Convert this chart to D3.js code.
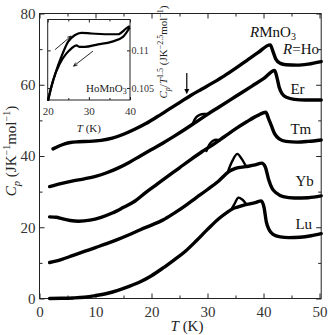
<!DOCTYPE html>
<html>
<head>
<meta charset="utf-8">
<script src="https://cdn.jsdelivr.net/npm/d3@7"></script>
<style>
  body { margin: 0; background: #fff; }
  svg { display: block; }
</style>
</head>
<body>
<script>
// specific heat of RMnO3, curves offset by 10 J/K mol each
var hoT  = [2.4, 3.5, 4.5, 5.5, 7, 9, 11, 13, 15, 17, 19, 21, 23, 25, 27, 29, 31, 33, 35, 37, 39, 41.2, 41.7, 42.2, 43, 44, 46, 48, 50.3];
var hoCp = [42, 42.8, 43.4, 43.8, 44, 44.1, 44.4, 45, 46.1, 47.5, 49.1, 51, 53, 55, 57, 58.8, 60.6, 62.5, 64.6, 66.8, 69, 71.2, 69.3, 67.2, 66, 65.6, 65.5, 65.8, 66.5];

var erT  = [1.8, 4, 6, 8, 10, 12, 14, 16, 18, 20, 22, 24, 26, 28, 30, 32, 34, 36, 38, 40, 42, 42.4, 42.8, 43.3, 44.2, 45.5, 47.5, 50.3];
var erCp = [31.4, 32.3, 33, 33.6, 34.3, 35.3, 36.6, 38.2, 40, 41.8, 43.6, 45.5, 47.5, 49.6, 51.7, 53.7, 55.7, 57.7, 59.7, 61.7, 64, 62, 59.3, 57.5, 56.4, 55.9, 55.7, 55.7];
var erLoopT  = [27.4, 28, 28.7, 29.4, 30];
var erLoopCp = [49.2, 50.9, 51.6, 51.8, 51.8];

var tmT  = [1.8, 3, 4, 5.5, 7, 9, 11, 13, 15, 17, 19, 21, 23, 25, 27, 29, 31, 33, 35, 37, 39, 40.4, 40.9, 41.4, 42, 42.8, 44, 46, 48, 50.3];
var tmCp = [22.9, 22.8, 22.4, 21.9, 21.7, 22, 22.8, 24, 25.6, 27.3, 29.8, 32.1, 34.4, 36.7, 39, 41.2, 43.2, 45.4, 47.6, 49.6, 51.4, 52.3, 50.5, 48.5, 46.2, 44.8, 44.1, 43.9, 44.1, 44.5];
var tmLoopT  = [29.8, 30.5, 31.3, 32.2];
var tmLoopCp = [41.4, 43.6, 44.5, 44.4];

var ybT  = [1.8, 4, 6, 8, 10, 12, 14, 16, 18, 20, 22, 24, 26, 28, 30, 32, 33.8, 35, 36.8, 38.5, 39.7, 40.3, 40.9, 41.5, 42.3, 43.5, 45.5, 48, 50.3];
var ybCp = [10.1, 11, 12.1, 13.2, 14.3, 15.4, 16.6, 17.9, 19.3, 20.6, 22, 23.9, 26, 28.3, 30.6, 33, 35.6, 36.5, 37, 37.5, 38, 37, 33.5, 31, 29.6, 28.6, 28.2, 28.3, 28.8];
var ybLoopT  = [33.6, 34.4, 35.3, 36.1, 36.9];
var ybLoopCp = [35.4, 38.5, 40.6, 39.2, 37];

var luT  = [1.8, 4, 6, 8, 10, 12, 14, 16, 18, 20, 22, 24, 26, 28, 30, 32, 33.5, 34.5, 35.5, 37, 38.5, 39.6, 40.1, 40.5, 41, 41.7, 43, 44.5, 46.5, 48.5, 50.3];
var luCp = [0, 0.05, 0.15, 0.35, 0.8, 1.4, 2.3, 3.4, 4.7, 6.4, 8.5, 10.8, 13.2, 16.2, 19.4, 22.4, 24.2, 25.2, 25.7, 26.4, 26.9, 27.4, 25.5, 21.5, 19.3, 18, 17.3, 17.1, 17.2, 17.6, 18.2];
var luLoopT  = [34.3, 34.9, 35.5, 36.2, 36.9];
var luLoopCp = [25.1, 26.8, 28.3, 27.8, 26.5];

var seriesNames = ["R=Ho", "Er", "Tm", "Yb", "Lu"];
var labelCp     = [68.5, 57.5, 46.3, 31.5, 19.6];
var labelT      = [43.5, 44.8, 44.8, 45.7, 45.7];

// inset: HoMnO3, Cp/T^1.5, heating and cooling
var upT = [20.07, 20.87, 22.09, 23.3, 24.93, 26.56, 28.17, 30.6, 33.85, 37.08, 39.1, 39.93];
var upV = [0.1033, 0.10509, 0.10732, 0.10912, 0.11113, 0.11201, 0.11233, 0.11224, 0.11214, 0.11214, 0.11291, 0.11322];
var downT = [20.07, 21.29, 22.92, 24.52, 25.73, 26.95, 27.78, 28.99, 32.22, 35.46, 38.3, 39.93];
var downV = [0.1033, 0.10598, 0.10822, 0.10956, 0.11023, 0.11067, 0.11046, 0.11046, 0.1108, 0.11113, 0.1118, 0.11304];

var xTicks = [0, 10, 20, 30, 40, 50];
var yTicks = [0, 20, 40, 60, 80];
var insetXTicks = [20, 30, 40];
var insetYTicks = [0.105, 0.11];

var serif = "'Liberation Serif', 'Times New Roman', serif";

var svg = d3.select("body").append("svg")
    .attr("width", 330)
    .attr("height", 335);

var x = d3.scaleLinear().domain([0, 50.3]).range([39.5, 321.2]);
var y = d3.scaleLinear().domain([0, 80]).range([298.5, 13.5]);

function pairs(ts, vs) {
    return ts.map((t, i) => [t, vs[i]]);
}

// axes, ticks inward
function styleAxis(gr, fontSize) {
    gr.attr("font-family", serif).attr("font-size", fontSize);
    gr.select(".domain").remove();
    gr.selectAll("line").attr("stroke", "#222");
    gr.selectAll("text").attr("fill", "#333");
}

var axBottom = svg.append("g")
    .attr("transform", "translate(0," + y(0) + ")")
    .call(d3.axisBottom(x).tickValues(d3.range(0, 51, 5)).tickSize(-5).tickSizeOuter(0).tickPadding(8)
        .tickFormat(d => xTicks.includes(d) ? d : ""));
styleAxis(axBottom, 15);
axBottom.selectAll(".tick").filter(d => d % 10 != 0).select("line").attr("y2", -3);

var axTop = svg.append("g")
    .attr("transform", "translate(0," + y(80) + ")")
    .call(d3.axisTop(x).tickValues(d3.range(0, 51, 5)).tickSize(-5).tickSizeOuter(0).tickFormat(""));
styleAxis(axTop, 15);
axTop.selectAll(".tick").filter(d => d % 10 != 0).select("line").attr("y2", 3);

var axLeft = svg.append("g")
    .attr("transform", "translate(" + x(0) + ",0)")
    .call(d3.axisLeft(y).tickValues(d3.range(0, 81, 10)).tickSize(-5).tickSizeOuter(0).tickPadding(4)
        .tickFormat(d => yTicks.includes(d) ? d : ""));
styleAxis(axLeft, 15);
axLeft.selectAll(".tick").filter(d => d % 20 != 0).select("line").attr("x2", 3);

var axRight = svg.append("g")
    .attr("transform", "translate(" + x(50.3) + ",0)")
    .call(d3.axisRight(y).tickValues(d3.range(0, 81, 10)).tickSize(-5).tickSizeOuter(0).tickFormat(""));
styleAxis(axRight, 15);
axRight.selectAll(".tick").filter(d => d % 20 != 0).select("line").attr("x2", -3);

svg.append("rect")
    .attr("x", x(0)).attr("y", y(80))
    .attr("width", x(50.3) - x(0)).attr("height", y(0) - y(80))
    .attr("fill", "none").attr("stroke", "#222").attr("stroke-width", 1);

// curves
var line = d3.line().x(d => x(d[0])).y(d => y(d[1])).curve(d3.curveMonotoneX);
var loopLine = d3.line().x(d => x(d[0])).y(d => y(d[1])).curve(d3.curveCatmullRom);

var curves = [pairs(hoT, hoCp), pairs(erT, erCp), pairs(tmT, tmCp), pairs(ybT, ybCp), pairs(luT, luCp)];
var loops = [pairs(erLoopT, erLoopCp), pairs(tmLoopT, tmLoopCp), pairs(ybLoopT, ybLoopCp), pairs(luLoopT, luLoopCp)];

svg.selectAll(".curve").data(curves).enter().append("path")
    .attr("class", "curve")
    .attr("d", line)
    .attr("fill", "none")
    .attr("stroke", "#000")
    .attr("stroke-width", 3.4)
    .attr("stroke-linejoin", "round")
    .attr("stroke-linecap", "round");

svg.selectAll(".loop").data(loops).enter().append("path")
    .attr("class", "loop")
    .attr("d", loopLine)
    .attr("fill", "none")
    .attr("stroke", "#000")
    .attr("stroke-width", 2.4)
    .attr("stroke-linecap", "round");

// arrow at Ho
var arrowT = 26.3;
svg.append("line")
    .attr("x1", x(arrowT)).attr("x2", x(arrowT))
    .attr("y1", y(63.3)).attr("y2", y(58.2))
    .attr("stroke", "#000").attr("stroke-width", 1.2);
svg.append("path")
    .attr("d", "M" + (x(arrowT) - 2.5) + "," + (y(58.8)) + "L" + x(arrowT) + "," + y(57.3) + "L" + (x(arrowT) + 2.5) + "," + y(58.8) + "Z")
    .attr("fill", "#000");

// series labels
var labels = svg.append("g").attr("font-family", serif).attr("font-size", 15).attr("fill", "#111");
var rm = labels.append("text").attr("x", x(37.6)).attr("y", y(73.3));
rm.append("tspan").attr("font-style", "italic").text("R");
rm.append("tspan").text("MnO");
rm.append("tspan").attr("font-size", 10).attr("dy", 3).text("3");

seriesNames.forEach((s, i) => {
    var t = labels.append("text").attr("x", x(labelT[i])).attr("y", y(labelCp[i]));
    if (s.startsWith("R=")) {
        t.append("tspan").attr("font-style", "italic").text("R");
        t.append("tspan").text("=" + s.slice(2));
    } else {
        t.text(s);
    }
});

// axis titles
var xt = svg.append("text")
    .attr("x", 187).attr("y", 331)
    .attr("text-anchor", "middle")
    .attr("font-family", serif).attr("font-size", 15).attr("fill", "#222");
xt.append("tspan").attr("font-style", "italic").text("T");
xt.append("tspan").text(" (K)");

var yt = svg.append("text")
    .attr("transform", "translate(16,151) rotate(-90)")
    .attr("text-anchor", "middle")
    .attr("font-family", serif).attr("font-size", 15).attr("fill", "#222");
yt.append("tspan").attr("font-style", "italic").text("C");
yt.append("tspan").attr("font-style", "italic").attr("font-size", 10.5).attr("dy", 4).text("p");
yt.append("tspan").attr("dy", -4).text(" (JK");
yt.append("tspan").attr("font-size", 10).attr("dy", -6).text("−1");
yt.append("tspan").attr("dy", 6).text("mol");
yt.append("tspan").attr("font-size", 10).attr("dy", -6).text("−1");
yt.append("tspan").attr("dy", 6).text(")");

// inset
var ix = d3.scaleLinear().domain([20, 40]).range([47.7, 130]);
var iy = d3.scaleLinear().domain([0.1034, 0.1141]).range([100, 19.5]);

svg.append("rect")
    .attr("x", ix(20)).attr("y", iy(0.1141))
    .attr("width", ix(40) - ix(20)).attr("height", iy(0.1034) - iy(0.1141))
    .attr("fill", "#fff").attr("stroke", "#222").attr("stroke-width", 1);

var ib = svg.append("g")
    .attr("transform", "translate(0," + iy(0.1034) + ")")
    .call(d3.axisBottom(ix).tickValues([20, 25, 30, 35, 40]).tickSize(-3).tickSizeOuter(0).tickPadding(7)
        .tickFormat(d => insetXTicks.includes(d) ? d : ""));
styleAxis(ib, 11);
ib.selectAll(".tick").filter(d => d % 10 != 0).select("line").attr("y2", -2);

var itop = svg.append("g")
    .attr("transform", "translate(0," + iy(0.1141) + ")")
    .call(d3.axisTop(ix).tickValues([20, 25, 30, 35, 40]).tickSize(-3).tickSizeOuter(0).tickFormat(""));
styleAxis(itop, 11);
itop.selectAll(".tick").filter(d => d % 10 != 0).select("line").attr("y2", 2);

var ir = svg.append("g")
    .attr("transform", "translate(" + ix(40) + ",0)")
    .call(d3.axisRight(iy).tickValues(insetYTicks).tickSize(-3).tickSizeOuter(0).tickPadding(1.5)
        .tickFormat(d3.format("")));
styleAxis(ir, 10);

var il = svg.append("g")
    .attr("transform", "translate(" + ix(20) + ",0)")
    .call(d3.axisLeft(iy).tickValues(insetYTicks).tickSize(-3).tickSizeOuter(0).tickFormat(""));
styleAxis(il, 10);

var iline = d3.line().x(d => ix(d[0])).y(d => iy(d[1])).curve(d3.curveMonotoneX);
svg.selectAll(".branch").data([pairs(upT, upV), pairs(downT, downV)]).enter().append("path")
    .attr("class", "branch")
    .attr("d", iline)
    .attr("fill", "none")
    .attr("stroke", "#000")
    .attr("stroke-width", 2.2)
    .attr("stroke-linejoin", "round");

// heating / cooling arrows
function arrow(x1, y1, x2, y2) {
    var a = Math.atan2(y2 - y1, x2 - x1), h = 4;
    svg.append("line")
        .attr("x1", x1).attr("y1", y1).attr("x2", x2).attr("y2", y2)
        .attr("stroke", "#111").attr("stroke-width", 0.9);
    svg.append("path")
        .attr("d", "M" + (x2 - h * Math.cos(a - 0.4)) + "," + (y2 - h * Math.sin(a - 0.4)) +
            "L" + x2 + "," + y2 +
            "L" + (x2 - h * Math.cos(a + 0.4)) + "," + (y2 - h * Math.sin(a + 0.4)))
        .attr("fill", "none").attr("stroke", "#111").attr("stroke-width", 0.9);
}
arrow(ix(21.8), iy(0.1101), ix(25.7), iy(0.1119));
arrow(ix(31.0), iy(0.1099), ix(26.3), iy(0.1079));

var ho = svg.append("text")
    .attr("x", ix(39.2)).attr("y", iy(0.1044))
    .attr("text-anchor", "end")
    .attr("font-family", serif).attr("font-size", 11).attr("fill", "#222");
ho.append("tspan").text("HoMnO");
ho.append("tspan").attr("font-size", 8).attr("dy", 2).text("3");

var ixt = svg.append("text")
    .attr("x", ix(30)).attr("y", 132)
    .attr("text-anchor", "middle")
    .attr("font-family", serif).attr("font-size", 11).attr("fill", "#222");
ixt.append("tspan").attr("font-style", "italic").text("T");
ixt.append("tspan").text(" (K)");

var iyt = svg.append("text")
    .attr("transform", "translate(167,52) rotate(-90)")
    .attr("text-anchor", "middle")
    .attr("font-family", serif).attr("font-size", 11).attr("fill", "#222");
iyt.append("tspan").attr("font-style", "italic").text("C");
iyt.append("tspan").attr("font-style", "italic").attr("font-size", 8).attr("dy", 3).text("p");
iyt.append("tspan").attr("dy", -3).text("/");
iyt.append("tspan").attr("font-style", "italic").text("T");
iyt.append("tspan").attr("font-size", 8).attr("dy", -4).text("1.5");
iyt.append("tspan").attr("dy", 4).text(" (JK");
iyt.append("tspan").attr("font-size", 8).attr("dy", -4).text("−2.5");
iyt.append("tspan").attr("dy", 4).text("mol");
iyt.append("tspan").attr("font-size", 8).attr("dy", -4).text("−1");
iyt.append("tspan").attr("dy", 4).text(")");
</script>
</body>
</html>
